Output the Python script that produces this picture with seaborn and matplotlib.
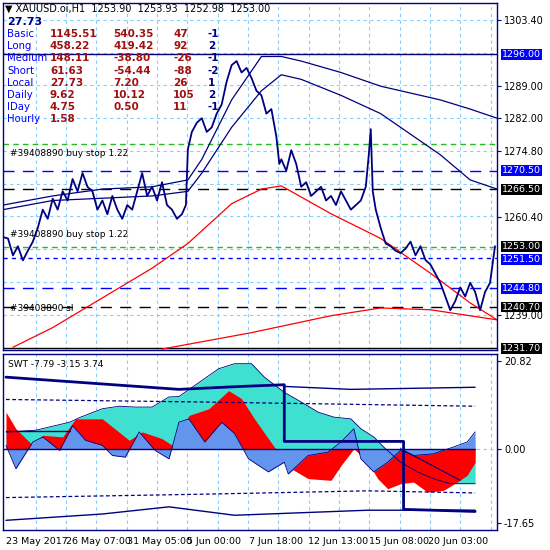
import matplotlib
matplotlib.use("Agg")
import matplotlib.pyplot as plt
import seaborn as sns
import numpy as np

sns.set_style("white")
plt.rcParams['font.family'] = ['DejaVu Sans']

NAVY = "#000080"
px = [0,5,10,15,20,25,30,35,40,45,50,55,60,65,70,75,80,85,90,95,100,105,110,115,120,125,130,135,140,145,150,155,160,165,170,175,180,184,186,190,195,200,205,210,215,220,225,230,235,240,245,250,255,260,265,270,275,278,280,285,290,295,300,305,310,315,320,325,330,335,340,345,350,355,360,365,368,370,372,375,380,385,390,395,400,405,410,415,420,425,430,435,440,445,450,455,460,465,470,475,480,485,490,495]
pp = [1256,1255.7,1252,1254,1250.9,1253,1255,1258,1262,1260,1264.4,1262,1266,1264,1268.7,1266,1270,1267,1266,1262,1264,1261,1265,1262,1260,1263,1262,1266,1270,1265,1267,1264,1268,1263,1262,1260,1261,1263,1275.2,1279,1281,1282,1279,1280,1283,1285,1290,1293.6,1294.5,1292,1293,1290.8,1288,1287,1283,1284,1278,1272,1273,1270.5,1275,1272,1267,1268,1265,1266,1267,1264,1265,1263,1266,1264,1262,1263,1264,1267,1274,1279.6,1266,1262,1258,1254.6,1254,1253,1252.5,1253.5,1255,1252,1254,1251,1250,1248,1246,1243,1240,1242,1245,1243,1246,1244,1240,1244,1246,1254]
rmx = [10,50,100,150,186,230,260,280,330,380,430,470,497]
ma_red = [1231.9,1236.2,1242.7,1249.2,1254.6,1263.3,1266.5,1267.2,1261.1,1255.7,1248.1,1241.6,1237.9]
r2x = [160,250,330,380,430,497]
ma_red2 = [1231.5,1235.1,1238.8,1240.5,1240.1,1237.9]
mx = [0,50,100,150,186,200,230,260,280,300,340,380,400,440,470,497]
ma_blue1 = [1263,1265,1266.5,1267,1268.5,1273,1286,1295.5,1295.5,1294.5,1292,1289,1288,1286,1284,1282]
ma_blue2 = [1262,1264,1264.5,1265,1266,1270,1280,1288,1291.5,1290.5,1287,1283,1280,1274,1268.5,1266.5]
hlines = [(1296.0, NAVY, '-'), (1270.5, 'blue', (0,(8,6))), (1266.5, 'black', (0,(8,6))),
          (1251.5, 'blue', (0,(3,3))), (1244.8, 'blue', (0,(8,6))), (1240.7, 'black', (0,(8,6))),
          (1276.3, '#22bb22', (0,(4,3))), (1253.9, '#22bb22', (0,(4,3)))]
price_ticks = [1303.40,1289.00,1282.00,1274.80,1260.40,1239.00]
boxes = [(1296.00,'blue'),(1270.50,'blue'),(1266.50,'black'),(1253.00,'black'),(1251.50,'blue'),(1244.80,'blue'),(1240.70,'black'),(1231.70,'black')]

cx = [3,33,67,78,100,117,133,150,167,177,200,217,233,250,263,283,300,317,333,350,360,373,383,400,417,433,450,467,475]
cyan = [3.96,4.4,6.3,7.5,9.5,10.1,9.9,9.9,12.3,12.4,16.2,19.0,20.2,20.2,17.0,13.4,11.1,8.7,7.5,7.1,4.75,2.8,0.4,-3.2,-5.5,-7.1,-8.3,-8.3,-8.3]
rx = [3,13,30,40,60,73,100,127,140,160,173,187,207,227,240,253,273,290,307,330,340,353,367,377,387,400,413,427,443,457,467,475]
red = [8.7,4.75,0.8,3.2,2.8,7.1,7.1,2.0,4.0,2.4,0.4,7.9,9.5,13.8,11.9,7.1,0.4,-4.75,-7.1,-7.5,-4.0,0.0,-3.2,-7.1,-9.5,-8.3,-7.9,-10.3,-9.9,-7.9,-6.3,-3.2]
bx = [3,13,30,40,57,70,83,100,110,123,137,153,167,177,187,203,220,233,247,267,283,287,307,327,340,353,360,373,387,400,413,433,453,467,475]
blue = [0.8,-4.75,1.6,2.8,-0.4,5.5,2.0,0.8,-1.6,-2.0,4.0,-0.4,-2.4,6.3,7.1,1.6,6.3,3.6,-2.4,-5.5,-3.2,-6.0,-1.6,-0.8,1.6,4.75,-2.4,-5.5,-3.2,-0.4,-1.6,-1.2,0.4,1.6,4.0]
stx = [3,177,240,283,283,403,403,475]
sty = [17.0,14.1,14.8,15.2,1.74,1.74,-14.4,-14.9]
ux = [283,350,475]; uy = [14.8,14.1,14.6]
dux = [3,200,475]; duy = [11.7,11.1,10.1]
dlx = [3,200,367,475]; dly = [-11.6,-10.8,-10.0,-10.5]
lx = [3,100,167,233,367,475]; ly = [-17.0,-15.5,-13.8,-15.8,-14.6,-14.6]
dgx = [400,460]; dgy = [0.0,-7.5]
swt_ticks = [20.82, 0.00, -17.65]
date_pos = [3,63,125,185,247,307,368,428]
date_lab = ["23 May 2017","26 May 07:00","31 May 05:00","5 Jun 00:00","7 Jun 18:00","12 Jun 13:00","15 Jun 08:00","20 Jun 03:00"]

fig = plt.figure(figsize=(5.5,5.5), dpi=100)
ax1 = fig.add_axes([3/550, 1-350/550, 494/550, 347/550])
ax2 = fig.add_axes([3/550, 20/550, 494/550, 176/550])
for a in (ax1, ax2):
    a.set_xlim(0, 497)
    for s in a.spines.values():
        s.set_color(NAVY); s.set_linewidth(1)
    for gx in np.arange(33, 497, 30.5):
        a.axvline(gx, color='#87CEFA', ls=(0,(3,3)), lw=0.8, zorder=0)
    a.tick_params(axis='both', length=3, labelsize=7, colors=NAVY, labelcolor='black', pad=2)

ax1.set_ylim(1231.3, 1307.2)
for t in np.arange(1239.0, 1305, 7.17):
    ax1.axhline(t, color='#87CEFA', ls=(0,(3,3)), lw=0.8, zorder=0)
for y, c, ls in hlines:
    ax1.axhline(y, color=c, ls=ls, lw=1.0, zorder=1)
ax1.axhline(1231.7, color='black', lw=1)
sns.lineplot(x=mx, y=ma_blue1, ax=ax1, color=NAVY, lw=0.9)
sns.lineplot(x=mx, y=ma_blue2, ax=ax1, color=NAVY, lw=0.9)
sns.lineplot(x=rmx, y=ma_red, ax=ax1, color='red', lw=0.9)
sns.lineplot(x=r2x, y=ma_red2, ax=ax1, color='red', lw=0.9)
ax1.plot(px, pp, color=NAVY, lw=1.3)
ax1.yaxis.tick_right()
ax1.set_yticks(price_ticks)
ax1.set_yticklabels([f"{t:.2f}" for t in price_ticks])
ax1.set_xticks([])
for y, c in boxes:
    yy = y + 0.9 if y == 1253.0 else (y - 0.4 if y == 1251.5 else y)
    ax1.text(1.01, yy, f"{y:.2f}", transform=ax1.get_yaxis_transform(), va='center', ha='left',
             fontsize=6.8, color='white', bbox=dict(boxstyle='square,pad=0.1', fc=c, ec='none'), clip_on=False)
ax1.text(7, 1273.8, "#39408890 buy stop 1.22", fontsize=6.5, color='black')
ax1.text(7, 1256.0, "#39408890 buy stop 1.22", fontsize=6.5, color='black')
ax1.text(7, 1239.8, "#39408890 sl", fontsize=6.5, color='black')

fig.text(5/550, 1-9/550, "▼ XAUUSD.oi,H1  1253.90  1253.93  1252.98  1253.00", fontsize=7, va='center', color='black')
fig.text(7/550, 1-22/550, "27.73", fontsize=8, weight='bold', color=NAVY, va='center')
rows = [("Basic","1145.51","540.35","47","-1"),("Long","458.22","419.42","92","2"),
        ("Medium","148.11","-38.80","-26","-1"),("Short","61.63","-54.44","-88","-2"),
        ("Local","27.73","7.20","26","1"),("Daily","9.62","10.12","105","2"),
        ("IDay","4.75","0.50","11","-1"),("Hourly","1.58","","","")]
for i, r in enumerate(rows):
    yy = 1-(34+12.2*i)/550
    fig.text(7/550, yy, r[0], fontsize=7.3, color='blue', va='center')
    for xx, v in zip([50,113,173], r[1:4]):
        fig.text(xx/550, yy, v, fontsize=7.5, weight='bold', color='#a01010', va='center')
    fig.text(208/550, yy, r[4], fontsize=7.5, weight='bold', color=NAVY, va='center')

ax2.set_ylim(-19.3, 22.5)
ax2.axhline(0, color='#87CEFA', ls=(0,(3,3)), lw=0.8, zorder=0)
ax2.fill_between(cx, 0, cyan, color='#40E0D0', lw=0)
ax2.fill_between(rx, 0, red, color='red', lw=0)
ax2.fill_between(bx, 0, blue, color='#6495ED', lw=0)
sns.lineplot(x=cx, y=cyan, ax=ax2, color=NAVY, lw=0.6)
sns.lineplot(x=bx, y=blue, ax=ax2, color=NAVY, lw=0.6)
ax2.plot([0, 475], [0, 0], color=NAVY, lw=1)
ax2.plot(stx, sty, color=NAVY, lw=2)
ax2.plot(ux, uy, color=NAVY, lw=1)
ax2.plot(dux, duy, color=NAVY, lw=0.9, ls=(0,(3,2)))
ax2.plot(dlx, dly, color=NAVY, lw=0.9, ls=(0,(3,2)))
ax2.plot(lx, ly, color=NAVY, lw=1)
ax2.plot(dgx, dgy, color=NAVY, lw=0.8)
ax2.plot([3,67],[4.1,4.1], color=NAVY, lw=1)
ax2.yaxis.tick_right()
ax2.set_yticks(swt_ticks)
ax2.set_yticklabels([f"{t:.2f}" for t in swt_ticks])
ax2.set_xticks(date_pos)
ax2.set_xticklabels(date_lab, ha='left', fontsize=6.8)
ax2.text(5, 19.5, "SWT -7.79 -3.15 3.74", fontsize=6.5, color='black')
fig.savefig("out.png", dpi=100)
